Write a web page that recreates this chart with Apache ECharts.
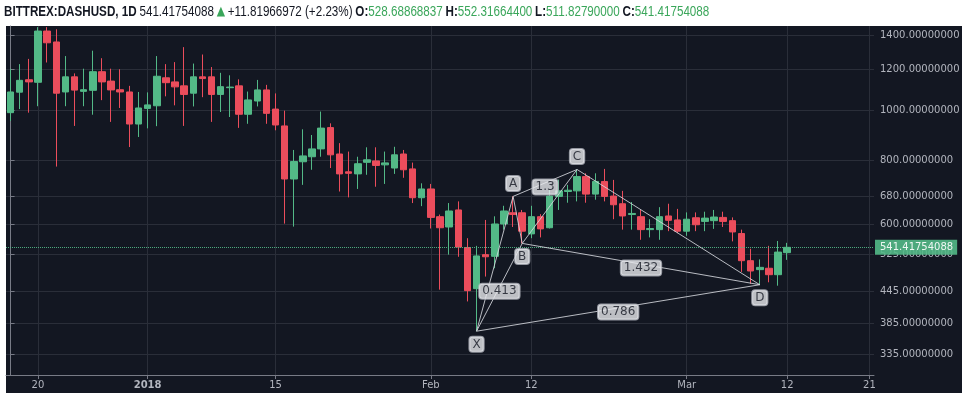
<!DOCTYPE html>
<html><head><meta charset="utf-8">
<script src="https://cdn.jsdelivr.net/npm/echarts@6/dist/echarts.min.js"></script>
<style>html,body{margin:0;padding:0;background:#ffffff;}#c{width:969px;height:397px;}</style>
</head><body><div id="c"></div>
<script>
// ---- data ----
const startDateUTC = [2017, 11, 17];
const categoryCount = 95;
const opens  = [989,1084,1146,1133,1425,1357,1085,1161,1088,1093,1188,1139,1096,1085,940,1008,1020,1156,1135,1115,1079,1161,1161,1073,1106,1115,982,1042,1095,1005,932,735,794,812,841,925,822,759,752,792,797,783,772,822,769,676,703,621,593,640,541,450,524,520,601,632,632,575,621,591,680,695,697,743,687,727,681,658,627,621,586,586,623,612,582,618,608,610,619,610,576,510,490,493,479,528.68868837];
const highs  = [1204,1229,1258,1450,1450,1436,1274,1179,1204,1305,1262,1204,1201,1115,1085,1083,1274,1229,1240,1326,1232,1283,1213,1182,1169,1148,1087,1145,1120,1078,998,837,918,895,994,943,863,831,812,847,847,831,849,837,791,721,719,627,660,665,564,545,612,622,652,680,640,652,628,700,733,716,767,754,754,769,732,697,663,640,614,648,658,643,633,633,635,640,635,619,586,538,513,545,557,552.316644];
const lows   = [953,1005,989,1018,1238,777,1018,932,1018,980,1046,949,1010,848,887,922,931,1064,1022,932,1017,1060,949,992,970,924,941,1017,941,914,602,594,716,766,812,772,695,677,703,749,710,719,752,739,660,651,589,448,524,519,425,372,475,493,586,593,551,564,566,589,640,661,665,661,670,665,614,586,586,560,566,560,582,577,570,582,582,588,593,556,485,460,458,463,456,511.8279];
const closes = [1085,1143,1135,1425,1352,1079,1161,1094,1096,1188,1135,1095,1085,940,1010,1024,1164,1131,1110,1073,1161,1152,1073,1111,1109,982,1047,1095,986,936,735,795,815,841,923,819,752,754,787,801,781,790,819,766,676,703,619,591,637,542,446,521,519,601,637,627,582,621,588,681,697,699,743,687,727,680,655,623,630,586,589,621,611,582,614,599,617,620,608,580,510,487,495,479,530,541.41754088];
const yTicks = [1400,1200,1000,800,680,600,525,445,385,335];
const xTickDates  = ['2017-12-20','2018-01-01','2018-01-15','2018-02-01','2018-02-12','2018-03-01','2018-03-12','2018-03-21'];
const xTickLabels = ['20','2018','15','Feb','12','Mar','12','21'];
const patternNames  = ['X','A','B','C','D'];
const patternDates  = ['2018-02-06','2018-02-10','2018-02-11','2018-02-17','2018-03-09'];
const patternPrices = [372,680,551,767,458];
const patternLegs = [['X','A'],['A','B'],['B','C'],['C','D'],['X','B'],['A','C'],['B','D'],['X','D']];
const ratioLegs   = [['X','B'],['A','C'],['B','D'],['X','D']];
const ratioLabels = ['0.413','1.3','1.432','0.786'];
const lastPrice = 541.41754088;

// ---- build ----
const categories = [];
const t0 = Date.UTC(startDateUTC[0], startDateUTC[1], startDateUTC[2]);
for (let i = 0; i < categoryCount; i++) categories.push(new Date(t0 + i * 86400000).toISOString().slice(0, 10));
const candleData = categories.map((c, i) => i < opens.length ? [opens[i], closes[i], lows[i], highs[i]] : '-');
const xTickIdx = xTickDates.map(d => categories.indexOf(d));
function pt(name) { const k = patternNames.indexOf(name); return [categories.indexOf(patternDates[k]), patternPrices[k]]; }

const GREEN = '#53b987', RED = '#eb4d5c';
const AXIS = '#787b86', GRIDC = '#2a2e39', LBL = '#b2b5be';
const boxLabel = {
  show: true, color: '#131722', fontFamily: 'DejaVu Sans', fontSize: 12,
  backgroundColor: '#e8eaee', borderColor: '#b4b7bf', borderWidth: 1, borderRadius: 3, padding: [2, 3, 1, 3]
};
const pointPos = {X: 'bottom', A: 'top', B: 'bottom', C: 'top', D: 'bottom'};
const HF = 'Liberation Sans';

const chart = echarts.init(document.getElementById('c'), null, {renderer: 'canvas'});
chart.setOption({
  backgroundColor: '#ffffff',
  animation: false,
  graphic: [
    {type: 'rect', z: -10, silent: true, shape: {x: 6, y: 26, width: 956, height: 367}, style: {fill: '#131722'}},
    {type: 'text', x: 4, y: 5, scaleX: 0.832, silent: true, z: 10,
     style: {
       text: '{b|BITTREX:DASHUSD, 1D} {n|541.41754088} {g|▲} {n|+11.81966972 (+2.23%)} {k|O:}{v|528.68868837} {k|H:}{v|552.31664400} {k|L:}{v|511.82790000} {k|C:}{v|541.41754088}',
       rich: {
         b: {fontFamily: HF, fontWeight: 'bold', fontSize: 14, fill: '#131722'},
         n: {fontFamily: HF, fontSize: 14, fill: '#131722'},
         k: {fontFamily: HF, fontWeight: 'bold', fontSize: 14, fill: '#131722'},
         v: {fontFamily: HF, fontSize: 14, fill: '#3aa65a'},
         g: {fontFamily: 'DejaVu Sans', fontSize: 13, fill: '#3aa65a'}
       }
     }}
  ],
  grid: {left: 6, right: 95, top: 26, bottom: 22, containLabel: false},
  xAxis: [
    {type: 'category', data: categories, boundaryGap: true, show: false},
    {type: 'value', min: -0.5, max: categoryCount - 0.5, position: 'bottom',
     axisLine: {show: true, lineStyle: {color: AXIS}},
     axisTick: {show: true, customValues: xTickIdx, length: 4, lineStyle: {color: AXIS}},
     axisLabel: {customValues: xTickIdx, margin: 5, color: LBL, fontFamily: 'DejaVu Sans', fontSize: 10,
       formatter: v => { const k = xTickIdx.indexOf(Math.round(v)); const s = k >= 0 ? xTickLabels[k] : ''; return s === '2018' ? '{bold|2018}' : s; },
       rich: {bold: {fontWeight: 'bold', color: LBL, fontFamily: 'DejaVu Sans', fontSize: 10}}},
     splitLine: {show: true, lineStyle: {color: GRIDC, width: 1}}}
  ],
  yAxis: [{
    type: 'log', logBase: 10, min: 305.8, max: 1457.5, position: 'right',
    axisLine: {show: true, lineStyle: {color: AXIS}},
    axisTick: {show: true, customValues: yTicks, length: 4, lineStyle: {color: AXIS}},
    axisLabel: {customValues: yTicks, margin: 6, color: LBL, fontFamily: 'DejaVu Sans', fontSize: 10, formatter: v => Number(v).toFixed(8)},
    splitLine: {show: true, lineStyle: {color: GRIDC, width: 1}}
  }],
  series: [
    {
      type: 'candlestick', xAxisIndex: 0, yAxisIndex: 0, data: candleData, barWidth: 7,
      itemStyle: {color: GREEN, color0: RED, borderColor: GREEN, borderColor0: RED, borderWidth: 1},
      markLine: {
        silent: true, symbol: 'none', animation: false,
        lineStyle: {color: GREEN, type: 'dotted', width: 1, opacity: 0.9},
        label: {show: true, position: 'end', distance: 1, formatter: () => lastPrice.toFixed(8),
          color: '#ffffff', backgroundColor: GREEN, padding: [3, 4, 2, 5], fontFamily: 'DejaVu Sans', fontSize: 10},
        data: [{yAxis: lastPrice}]
      }
    },
    {
      type: 'lines', coordinateSystem: 'cartesian2d', xAxisIndex: 1, yAxisIndex: 0, z: 5, silent: true,
      lineStyle: {color: '#d6d8de', width: 1, opacity: 0.85, curveness: 0},
      data: patternLegs.map(([a, b]) => ({coords: [pt(a), pt(b)]}))
    },
    {
      type: 'scatter', xAxisIndex: 1, yAxisIndex: 0, z: 6, silent: true, symbolSize: 1,
      itemStyle: {color: 'rgba(0,0,0,0)'},
      data: patternNames.map(n => ({value: pt(n), label: Object.assign({}, boxLabel, {position: pointPos[n], distance: 5, formatter: n})}))
    },
    {
      type: 'scatter', xAxisIndex: 1, yAxisIndex: 0, z: 6, silent: true, symbolSize: 1,
      itemStyle: {color: 'rgba(0,0,0,0)'},
      data: ratioLegs.map(([a, b], i) => {
        const pa = pt(a), pb = pt(b);
        return {value: [(pa[0] + pb[0]) / 2, Math.sqrt(pa[1] * pb[1])], label: Object.assign({}, boxLabel, {position: 'inside', offset: [0, 4], formatter: ratioLabels[i]})};
      })
    }
  ]
});
</script></body></html>
